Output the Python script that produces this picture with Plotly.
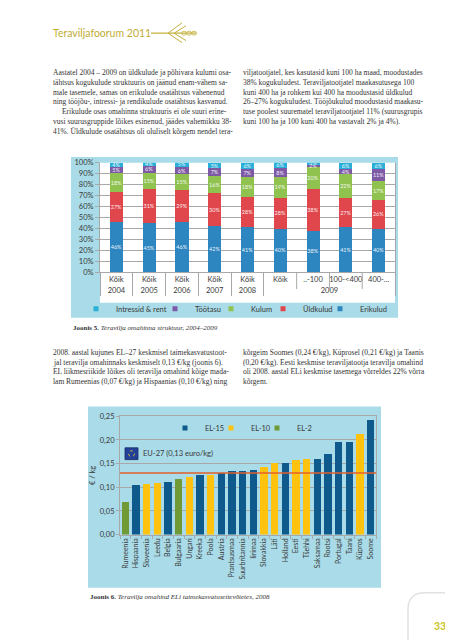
import plotly.graph_objects as go

W, H = 453, 640
def px(x): return x / W
def py(y): return 1 - y / H

# ---------------- Joonis 5 data ----------------
years = ["2004", "2005", "2006", "2007", "2008", "2009", "2009", "2009", "2009"]
subgroups = ["Kõik", "Kõik", "Kõik", "Kõik", "Kõik", "Kõik", "..-100", "100-<400", "400-..."]
erikulud = [46, 45, 46, 42, 41, 40, 38, 41, 40]
yldkulud = [27, 31, 29, 30, 28, 28, 38, 27, 26]
kulum = [18, 15, 15, 16, 18, 19, 20, 22, 17]
tootasu = [5, 6, 6, 7, 7, 8, 2, 4, 11]
intressid = [4, 4, 5, 5, 6, 6, 3, 6, 6]
series5_names = ["Erikulud", "Üldkulud", "Kulum", "Töötasu", "Intressid & rent"]
series5_values = [erikulud, yldkulud, kulum, tootasu, intressid]
series5_colors = ["#2e86c1", "#e0474c", "#8fc24f", "#7e5aa6", "#2ab0d8"]

# ---------------- Joonis 6 data ----------------
countries = ["Rumeenia", "Hispaania", "Sloveenia", "Leedu", "Belgia", "Bulgaaria", "Ungari",
             "Kreeka", "Poola", "Austria", "Prantsusmaa", "Suurbritannia", "Iirimaa",
             "Slovakkia", "Läti", "Holland", "Eesti", "Tšehhi", "Saksamaa", "Rootsi",
             "Portugal", "Taani", "Küpros", "Soome"]
cost_eur_kg = [0.068, 0.104, 0.106, 0.108, 0.111, 0.117, 0.121, 0.125, 0.125, 0.131, 0.135,
               0.135, 0.137, 0.142, 0.151, 0.151, 0.158, 0.160, 0.160, 0.170, 0.196, 0.196,
               0.213, 0.243]
country_group = ["EL-2", "EL-15", "EL-10", "EL-10", "EL-15", "EL-2", "EL-10", "EL-15", "EL-10",
                 "EL-15", "EL-15", "EL-15", "EL-15", "EL-10", "EL-10", "EL-15", "EL-10", "EL-10",
                 "EL-15", "EL-15", "EL-15", "EL-15", "EL-10", "EL-15"]
group_names = ["EL-15", "EL-10", "EL-2"]
group_colors = ["#0f5a8c", "#fec20f", "#6f9a36"]
eu27_avg = 0.13

FONT = "Lato"
TXT = "#3a3a3a"
LIGHTBLUE = "#a9dce8"
GRID = "#a8a8a8"

fig = go.Figure()

# Joonis 5 stacked bars
for name, vals, col in zip(series5_names, series5_values, series5_colors):
    fig.add_trace(go.Bar(
        x=[years, subgroups], y=vals, name=name,
        marker=dict(color=col, line=dict(width=0)),
        text=[f"{v}%" for v in vals], textposition="inside", insidetextanchor="middle",
        textangle=0, constraintext="none",
        textfont=dict(size=5.5, color="rgba(255,255,255,0.92)", family=FONT),
        width=0.4, showlegend=False, xaxis="x", yaxis="y", hoverinfo="skip"))

# legend entries for Joonis 5 (top segment first)
legend_w5 = [34, 11, 7, 12, 32]
for name, col, lw in zip(series5_names[::-1], series5_colors[::-1], legend_w5):
    fig.add_trace(go.Scatter(
        x=[None], y=[None], mode="markers", name=name,
        marker=dict(symbol="square", size=5, color=col),
        legend="legend", legendwidth=lw, xaxis="x2", yaxis="y2", hoverinfo="skip"))

# Joonis 6 bars
for grp, col in zip(group_names, group_colors):
    ys = [v if g == grp else None for v, g in zip(cost_eur_kg, country_group)]
    fig.add_trace(go.Bar(x=countries, y=ys, name=grp, marker=dict(color=col, line=dict(width=0)),
                         width=0.68, showlegend=False, xaxis="x2", yaxis="y2", hoverinfo="skip"))
for grp, col, lw in zip(group_names, group_colors, [1, 1, 20]):
    fig.add_trace(go.Scatter(
        x=[None], y=[None], mode="markers", name=grp,
        marker=dict(symbol="square", size=5, color=col),
        legend="legend2", legendwidth=lw, xaxis="x2", yaxis="y2", hoverinfo="skip"))

shapes = []
# backgrounds
shapes.append(dict(type="rect", xref="paper", yref="paper", x0=px(63), x1=px(390), y0=py(310), y1=py(147),
                   fillcolor=LIGHTBLUE, line=dict(width=0), layer="below"))
shapes.append(dict(type="rect", xref="paper", yref="paper", x0=px(92), x1=px(387), y0=py(295), y1=py(153),
                   fillcolor="white", line=dict(width=0), layer="below"))
shapes.append(dict(type="rect", xref="paper", yref="paper", x0=px(80), x1=px(373), y0=py(584), y1=py(400),
                   fillcolor=LIGHTBLUE, line=dict(width=0), layer="below"))
# short dividers between the 2009 size groups (first label row only)
slot = (387 - 92) / len(years)
for k in range(6, 9):
    shapes.append(dict(type="line", xref="paper", yref="paper", x0=px(92 + slot * k), x1=px(92 + slot * k),
                       y0=py(264), y1=py(281), line=dict(color=GRID, width=1)))
# EU-27 average line
shapes.append(dict(type="line", xref="x2 domain", yref="y2", x0=0, x1=1, y0=eu27_avg, y1=eu27_avg,
                   line=dict(color="#e2602c", width=1.5), layer="above"))
# EU flag
shapes.append(dict(type="rect", xref="paper", yref="paper", x0=px(117), x1=px(130), y0=py(454), y1=py(442),
                   fillcolor="#22409a", line=dict(color="#1a2a60", width=0.8), layer="above"))
shapes.append(dict(type="circle", xref="paper", yref="paper", x0=px(120.5), x1=px(126.5), y0=py(451), y1=py(445),
                   line=dict(color="#f2d21a", width=0.8, dash="dot"), layer="above"))
# header wheat ornament
gold = "#c4b13e"
shapes.append(dict(type="line", xref="paper", yref="paper", x0=px(143), x1=px(188), y0=py(21.5), y1=py(21.5),
                   line=dict(color=gold, width=1.2)))
for (x0, y0, x1, y1) in [(160, 21.5, 174, 11), (160, 21.5, 174, 31), (166, 21.5, 178, 14), (166, 21.5, 178, 29)]:
    shapes.append(dict(type="line", xref="paper", yref="paper", x0=px(x0), x1=px(x1), y0=py(y0), y1=py(y1),
                       line=dict(color=gold, width=1.0)))
for cx in [176, 181, 186]:
    shapes.append(dict(type="circle", xref="paper", yref="paper", x0=px(cx - 2.5), x1=px(cx + 2.5),
                       y0=py(23.5), y1=py(19.5), line=dict(color=gold, width=0.8)))
# page corner
shapes.append(dict(type="path", xref="paper", yref="paper",
                   path=f"M {px(400)} {py(641)} L {px(400)} {py(606)} Q {px(400)} {py(589)} {px(417)} {py(589)} L {px(454)} {py(589)}",
                   line=dict(color="#e2e2e2", width=1.5)))

ann = []
def line_text(x, y, t, size=7.5, family="Liberation Serif", color="#333333"):
    ann.append(dict(x=px(x), y=py(y), xref="paper", yref="paper", text=t, showarrow=False,
                    xanchor="left", yanchor="middle", font=dict(size=size, family=family, color=color)))

# header
line_text(43, 21.5, "Teraviljafoorum 2011", size=10.5, family=FONT, color="#c0ad36")

left1 = ["Aastatel 2004 – 2009 on üldkulude ja põhivara kulumi osa-",
         "tähtsus kogukulude struktuuris on jäänud enam-vähem sa-",
         "male tasemele, samas on erikulude osatähtsus vähenenud",
         "ning tööjõu-, intressi- ja rendikulude osatähtsus kasvanud.",
         "Erikulude osas omahinna struktuuris ei ole suuri erine-",
         "vusi suurusgruppide lõikes esinenud, jäädes vahemikku 38-",
         "41%. Üldkulude osatähtsus oli oluliselt kõrgem nendel tera-"]
right1 = ["viljatootjatel, kes kasutasid kuni 100 ha maad, moodustades",
          "38% kogukuludest. Teraviljatootjatel maakasutusega 100",
          "kuni 400 ha ja rohkem kui 400 ha moodustasid üldkulud",
          "26–27% kogukuludest. Tööjõukulud moodustasid maakasu-",
          "tuse poolest suurematel teraviljatootjatel 11% (suurusgrupis",
          "kuni 100 ha ja 100 kuni 400 ha vastavalt 2% ja 4%)."]
for i, t in enumerate(left1):
    line_text(52 if i == 4 else 43, 61.5 + 9.9 * i, t)
for i, t in enumerate(right1):
    line_text(233, 61.5 + 9.9 * i, t)

left2 = ["2008. aastal kujunes EL–27 keskmisel taimekasvatustoot-",
         "jal teravilja omahinnaks keskmiselt 0,13 €/kg (joonis 6).",
         "EL liikmesriikide lõikes oli teravilja omahind kõige mada-",
         "lam Rumeenias (0,07 €/kg) ja Hispaanias (0,10 €/kg) ning"]
right2 = ["kõrgeim Soomes (0,24 €/kg), Küprosel (0,21 €/kg) ja Taanis",
          "(0,20 €/kg). Eesti keskmise teraviljatootja teravilja omahind",
          "oli 2008. aastal ELi keskmise tasemega võrreldes 22% võrra",
          "kõrgem."]
for i, t in enumerate(left2):
    line_text(43, 345 + 10 * i, t)
for i, t in enumerate(right2):
    line_text(233, 345 + 10 * i, t)

line_text(63, 320, "<b>Joonis 5.</b> <i>Teravilja omahinna struktuur, 2004–2009</i>", size=7)
line_text(80, 593, "<b>Joonis 6.</b> <i>Teravilja omahind ELi taimekasvatusettevõtetes, 2008</i>", size=7)
line_text(133, 448, "EU-27 (0,13 euro/kg)", size=7.5, family=FONT, color=TXT)
line_text(424, 623, "<b>33</b>", size=10.5, family=FONT, color="#c9c41c")

fig.update_layout(
    width=W, height=H, margin=dict(l=0, r=0, t=0, b=0),
    paper_bgcolor="white", plot_bgcolor="white",
    barmode="stack", separators=", ",
    font=dict(family=FONT, size=7.5, color=TXT),
    shapes=shapes, annotations=ann,
    xaxis=dict(domain=[px(92), px(387)], anchor="y", type="multicategory", tickangle=0,
               tickfont=dict(size=7.5, color=TXT), showdividers=True, dividercolor=GRID,
               dividerwidth=1, showline=True, linecolor=GRID, showgrid=False, ticks=""),
    yaxis=dict(domain=[py(264), py(153)], anchor="x", range=[0, 100], dtick=10, ticksuffix="%",
               showgrid=True, gridcolor=GRID, gridwidth=1, showline=True, linecolor=GRID, mirror=True,
               ticks="outside", ticklen=4, tickcolor=GRID, zeroline=False,
               tickfont=dict(size=7.5, color=TXT)),
    xaxis2=dict(domain=[px(112), px(368)], anchor="y2", type="category", categoryorder="array",
                categoryarray=countries, tickangle=-90, tickfont=dict(size=7, color=TXT),
                showline=True, linecolor=GRID, mirror=True, ticks="outside", ticklen=3,
                tickson="boundaries", tickcolor=GRID, showgrid=False),
    yaxis2=dict(domain=[py(530), py(410)], anchor="x2", range=[0, 0.25], dtick=0.05, tickformat=".2f",
                showgrid=True, gridcolor=GRID, showline=True, linecolor=GRID, mirror=True,
                ticks="outside", ticklen=3, tickcolor=GRID, zeroline=False,
                tickfont=dict(size=7.5, color=TXT),
                title=dict(text="€ / kg", font=dict(size=7.5, color=TXT), standoff=3)),
    legend=dict(orientation="h", traceorder="normal", x=px(68), y=py(301), xanchor="left", yanchor="middle",
                font=dict(size=7.5, color=TXT), bgcolor="rgba(0,0,0,0)", itemwidth=30,
                itemclick=False, itemdoubleclick=False),
    legend2=dict(orientation="h", traceorder="normal", x=px(157), y=py(422), xanchor="left", yanchor="middle",
                 font=dict(size=7.5, color=TXT), bgcolor="rgba(0,0,0,0)", itemwidth=30,
                 itemclick=False, itemdoubleclick=False),
)

fig.write_html("out.html")
